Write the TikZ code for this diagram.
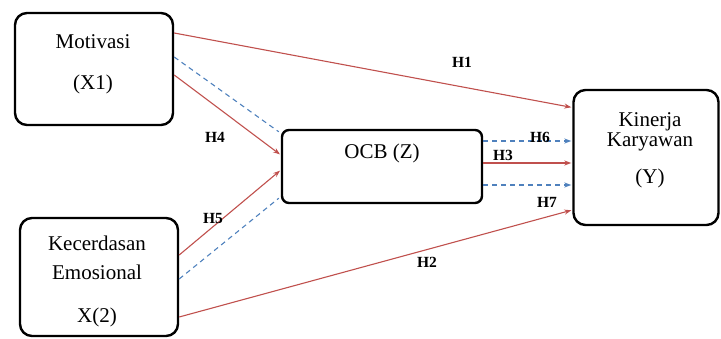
\documentclass[tikz,border=0pt]{standalone}
\usepackage{fontspec}
\setmainfont{Liberation Serif}
\usetikzlibrary{arrows.meta}
\definecolor{redline}{RGB}{192,80,77}
\definecolor{blueline}{RGB}{79,129,189}
\begin{document}
\begin{tikzpicture}[x=1pt,y=-1pt,
		box/.style={draw,line width=2.4pt,rounded corners=12pt,inner sep=0pt},
		txt/.style={font=\fontsize{21}{24}\selectfont,inner sep=0pt},
		hyp/.style={font=\fontsize{15.5}{17}\selectfont\bfseries,inner sep=0pt},
		redarrow/.style={draw=redline,line width=1.1pt,-{Stealth[length=7pt,width=5pt]},shorten >=1pt},
		bluedash/.style={draw=blueline,line width=1.1pt,dash pattern=on 5pt off 4pt},
		bluearrow/.style={bluedash,-{Stealth[length=7pt,width=5pt]},shorten >=1pt}]
		\useasboundingbox (0,0) rectangle (721,339);
		\node[box,minimum width=158pt,minimum height=112pt] (mot) at (94,69) {};
		\node[box,minimum width=158pt,minimum height=118pt] (kec) at (99,277) {};
		\node[box,rounded corners=7pt,minimum width=200pt,minimum height=73pt] (ocb) at (382,166.5) {};
		\node[box,minimum width=145pt,minimum height=135pt] (kin) at (646,157.5) {};
		\node[txt] (motA) at (93,42) {Motivasi};
		\node[txt] (motB) at (93,84) {(X1)};
		\node[txt] (kecA) at (97,243) {Kecerdasan};
		\node[txt] (kecB) at (97,272) {Emosional};
		\node[txt] (kecC) at (97,317) {X(2)};
		\node[txt] (ocbA) at (382,153) {OCB (Z)};
		\node[txt] (kinA) at (650,122) {Kinerja};
		\node[txt] (kinB) at (650,142) {Karyawan};
		\node[txt] (kinC) at (650,178) {(Y)};
		\draw[redarrow] ([yshift=36pt]mot.east)--([yshift=50pt]kin.west);
		\draw[redarrow] ([yshift=-6pt]mot.east)--([yshift=11.5pt]ocb.west);
		\draw[bluedash] ([yshift=12pt]mot.east)--([xshift=-2pt,yshift=-3pt]ocb.north west);
		\draw[redarrow] ([yshift=22pt]kec.east)--([yshift=-3.5pt]ocb.west);
		\draw[bluedash] ([yshift=-2pt]kec.east)--([xshift=-2pt,yshift=6pt]ocb.south west);
		\draw[redarrow] ([yshift=-40pt]kec.east)--([yshift=-52.5pt]kin.west);
		\draw[bluearrow] ([yshift=25.5pt]ocb.east)--([yshift=16.5pt]kin.west);
		\draw[redarrow] ([yshift=3.5pt]ocb.east)--([yshift=-5.5pt]kin.west);
		\draw[bluearrow] ([yshift=-18.5pt]ocb.east)--([yshift=-27.5pt]kin.west);
		\node[hyp] (h1) at (462,62) {H1};
		\node[hyp] (h2) at (427,262) {H2};
		\node[hyp] (h3) at (503,155) {H3};
		\node[hyp] (h4) at (215,137) {H4};
		\node[hyp] (h5) at (213,219) {H5};
		\node[hyp] (h6) at (540,137) {H6};
		\node[hyp] (h7) at (547,202) {H7};
	\end{tikzpicture}
\end{document}
